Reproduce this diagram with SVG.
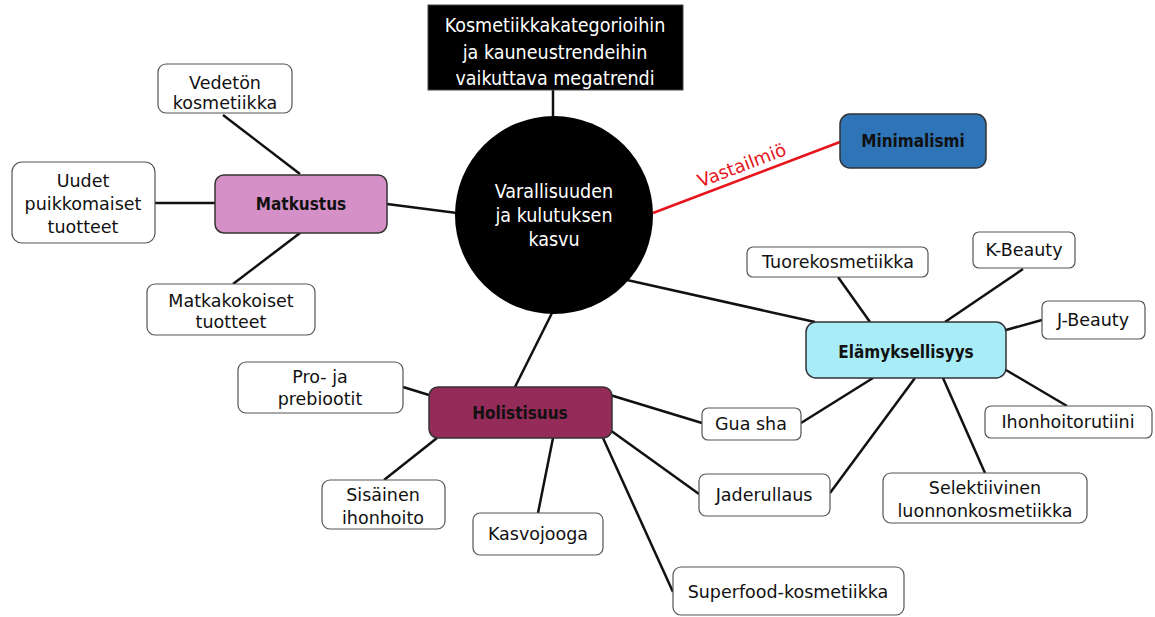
<svg xmlns="http://www.w3.org/2000/svg" width="1155" height="617" viewBox="0 0 1155 617">
<style>
.bg{fill:#ffffff}
.box{fill:#ffffff;stroke:#555555;stroke-width:1.2}
.hub{stroke:#333333;stroke-width:1.5}
.t{font-family:"DejaVu Sans","Verdana",sans-serif;font-size:17.5px;fill:#111111;text-anchor:middle}
.tb{font-family:"DejaVu Sans Condensed","DejaVu Sans",sans-serif;font-stretch:condensed;font-weight:bold;font-size:17px;fill:#111111;text-anchor:middle}
.tw{font-family:"DejaVu Sans Condensed","DejaVu Sans",sans-serif;font-stretch:condensed;font-size:19.5px;fill:#ffffff;text-anchor:middle}
.c{stroke:#111111;stroke-width:2.5;fill:none}
.red{stroke:#e8141b;stroke-width:2.5;fill:none}
</style>
<rect class="bg" x="0" y="0" width="1155" height="617"/>
<g id="connectors">
  <line class="c" x1="553" y1="90" x2="553" y2="116"/>
  <line class="red" x1="653" y1="213" x2="840" y2="142"/>
  <text transform="translate(744,171) rotate(-20.8)" x="0" y="0" style="font-family:'DejaVu Sans',sans-serif;font-size:18px;fill:#e8141b;text-anchor:middle">Vastailmiö</text>
  <line class="c" x1="387" y1="204" x2="457" y2="213"/>
  <line class="c" x1="223" y1="115" x2="300" y2="174"/>
  <line class="c" x1="155" y1="203" x2="215" y2="203"/>
  <line class="c" x1="233" y1="284" x2="300" y2="233"/>
  <line class="c" x1="627" y1="280" x2="815" y2="322"/>
  <line class="c" x1="838" y1="277" x2="870" y2="322"/>
  <line class="c" x1="1023" y1="269" x2="945" y2="322"/>
  <line class="c" x1="1042" y1="320" x2="1006" y2="330"/>
  <line class="c" x1="1006" y1="370" x2="1067" y2="406"/>
  <line class="c" x1="943" y1="378" x2="985" y2="473"/>
  <line class="c" x1="873" y1="378" x2="801" y2="423"/>
  <line class="c" x1="915" y1="378" x2="830" y2="493"/>
  <line class="c" x1="552" y1="313" x2="515" y2="387"/>
  <line class="c" x1="403" y1="387" x2="429" y2="395"/>
  <line class="c" x1="437" y1="438" x2="384" y2="480"/>
  <line class="c" x1="553" y1="438" x2="538" y2="513"/>
  <line class="c" x1="610" y1="395" x2="702" y2="423"/>
  <line class="c" x1="610" y1="430" x2="699" y2="494"/>
  <line class="c" x1="603" y1="438" x2="673" y2="592"/>
</g>
<g id="megatrend">
  <rect x="428" y="5" width="255" height="85" fill="#000000" stroke="#444" stroke-width="1"/>
  <text class="tw" x="555" y="32">Kosmetiikkakategorioihin</text>
  <text class="tw" x="555" y="59">ja kauneustrendeihin</text>
  <text class="tw" x="555" y="85">vaikuttava megatrendi</text>
</g>
<g id="center">
  <circle cx="554" cy="215" r="99" fill="#000000"/>
  <text class="tw" x="554" y="198">Varallisuuden</text>
  <text class="tw" x="554" y="222">ja kulutuksen</text>
  <text class="tw" x="554" y="246">kasvu</text>
</g>
<g id="minimalismi">
  <rect class="hub" x="840" y="114" width="146" height="54" rx="10" fill="#2e74b7"/>
  <text class="tb" x="913" y="147">Minimalismi</text>
</g>
<g id="matkustus">
  <rect class="hub" x="215" y="175" width="172" height="58" rx="9" fill="#d591c7"/>
  <text class="tb" x="301" y="210">Matkustus</text>
</g>
<g id="vedeton">
  <rect class="box" x="158" y="64" width="134" height="49" rx="8"/>
  <text class="t" x="225" y="89">Vedetön</text>
  <text class="t" x="225" y="109">kosmetiikka</text>
</g>
<g id="uudet">
  <rect class="box" x="12" y="162" width="143" height="81" rx="10"/>
  <text class="t" x="83" y="187">Uudet</text>
  <text class="t" x="83" y="210">puikkomaiset</text>
  <text class="t" x="83" y="233">tuotteet</text>
</g>
<g id="matkakokoiset">
  <rect class="box" x="147" y="284" width="168" height="51" rx="8"/>
  <text class="t" x="231" y="307">Matkakokoiset</text>
  <text class="t" x="231" y="328">tuotteet</text>
</g>
<g id="elamyksellisyys">
  <rect class="hub" x="806" y="322" width="200" height="56" rx="10" fill="#a8ecf7"/>
  <text class="tb" x="906" y="358">Elämyksellisyys</text>
</g>
<g id="tuore">
  <rect class="box" x="747" y="247" width="181" height="30" rx="6"/>
  <text class="t" x="838" y="268">Tuorekosmetiikka</text>
</g>
<g id="kbeauty">
  <rect class="box" x="973" y="232" width="102" height="36" rx="6"/>
  <text class="t" x="1024" y="256">K-Beauty</text>
</g>
<g id="jbeauty">
  <rect class="box" x="1042" y="301" width="103" height="38" rx="6"/>
  <text class="t" x="1093" y="326">J-Beauty</text>
</g>
<g id="ihonhoitorutiini">
  <rect class="box" x="985" y="406" width="167" height="32" rx="6"/>
  <text class="t" x="1068" y="428">Ihonhoitorutiini</text>
</g>
<g id="selektiivinen">
  <rect class="box" x="883" y="473" width="204" height="50" rx="8"/>
  <text class="t" x="985" y="494">Selektiivinen</text>
  <text class="t" x="985" y="517">luonnonkosmetiikka</text>
</g>
<g id="guasha">
  <rect class="box" x="702" y="408" width="99" height="32" rx="6"/>
  <text class="t" x="751" y="430">Gua sha</text>
</g>
<g id="jaderullaus">
  <rect class="box" x="699" y="474" width="131" height="42" rx="7"/>
  <text class="t" x="764" y="501">Jaderullaus</text>
</g>
<g id="superfood">
  <rect class="box" x="673" y="567" width="231" height="48" rx="8"/>
  <text class="t" x="788" y="598">Superfood-kosmetiikka</text>
</g>
<g id="holistisuus">
  <rect class="hub" x="429" y="387" width="183" height="51" rx="9" fill="#952b59"/>
  <text class="tb" x="520" y="419">Holistisuus</text>
</g>
<g id="probiootit">
  <rect class="box" x="238" y="362" width="165" height="51" rx="8"/>
  <text class="t" x="320" y="383">Pro- ja</text>
  <text class="t" x="320" y="405">prebiootit</text>
</g>
<g id="sisainen">
  <rect class="box" x="322" y="480" width="123" height="49" rx="8"/>
  <text class="t" x="383" y="501">Sisäinen</text>
  <text class="t" x="383" y="524">ihonhoito</text>
</g>
<g id="kasvojooga">
  <rect class="box" x="473" y="513" width="130" height="42" rx="7"/>
  <text class="t" x="538" y="540">Kasvojooga</text>
</g>
</svg>
